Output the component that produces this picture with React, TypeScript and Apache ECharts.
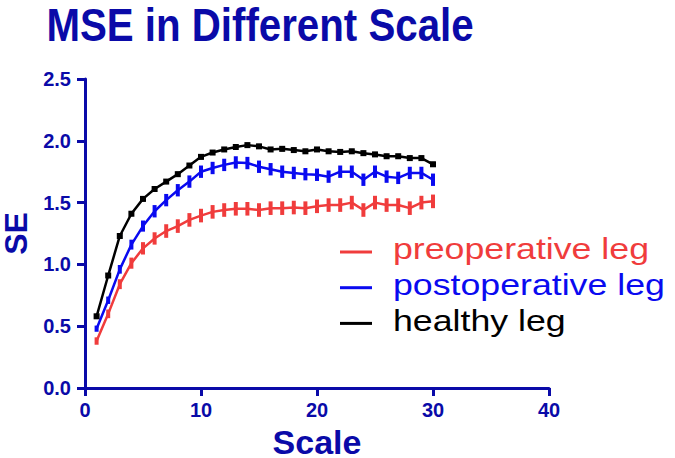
import React, { useEffect, useRef } from "react";
import * as echarts from "echarts";

const scales = Array.from({ length: 30 }, (_, i) => i + 1);

const seriesNames = ["preoperative leg", "postoperative leg", "healthy leg"];
const seriesColors = ["#f03c3c", "#0a0af0", "#000000"];

const preoperative = [
  0.38, 0.6, 0.84, 1.01, 1.13, 1.21, 1.27, 1.31, 1.36, 1.395,
  1.425, 1.44, 1.45, 1.45, 1.44, 1.455, 1.455, 1.46, 1.455, 1.47,
  1.48, 1.48, 1.5, 1.44, 1.5, 1.48, 1.48, 1.455, 1.5, 1.51,
];
const postoperative = [
  0.48, 0.71, 0.96, 1.16, 1.31, 1.43, 1.52, 1.6, 1.67, 1.75,
  1.78, 1.805, 1.825, 1.82, 1.79, 1.77, 1.75, 1.74, 1.73, 1.725,
  1.71, 1.75, 1.75, 1.685, 1.75, 1.71, 1.7, 1.74, 1.74, 1.685,
];
const healthy = [
  0.58, 0.91, 1.23, 1.41, 1.53, 1.61, 1.67, 1.73, 1.8, 1.87,
  1.905, 1.93, 1.95, 1.965, 1.955, 1.93, 1.935, 1.925, 1.915, 1.93,
  1.915, 1.91, 1.915, 1.9, 1.89, 1.875, 1.875, 1.86, 1.86, 1.81,
];

const preErr = [
  0.03, 0.035, 0.04, 0.045, 0.05, 0.05, 0.055, 0.055, 0.055, 0.055,
  0.055, 0.055, 0.055, 0.055, 0.055, 0.055, 0.055, 0.055, 0.055, 0.055,
  0.055, 0.055, 0.055, 0.055, 0.055, 0.055, 0.055, 0.055, 0.055, 0.055,
];
const postErr = [
  0.025, 0.03, 0.035, 0.04, 0.045, 0.05, 0.05, 0.05, 0.05, 0.05,
  0.05, 0.05, 0.05, 0.05, 0.05, 0.05, 0.05, 0.05, 0.05, 0.05,
  0.05, 0.05, 0.05, 0.05, 0.05, 0.05, 0.05, 0.05, 0.05, 0.05,
];
const healthyErr = [
  0.02, 0.02, 0.02, 0.02, 0.02, 0.02, 0.02, 0.02, 0.02, 0.02,
  0.02, 0.02, 0.02, 0.02, 0.02, 0.02, 0.02, 0.02, 0.02, 0.02,
  0.02, 0.02, 0.02, 0.02, 0.02, 0.02, 0.02, 0.02, 0.02, 0.02,
];

const xTicks = [0, 10, 20, 30, 40];
const yTicks = [0, 0.5, 1.0, 1.5, 2.0, 2.5];

const titleText = "MSE in Different Scale";
const xName = "Scale";
const yName = "SE";

const AXIS_COLOR = "#0a0aa8";
const FONT = "'Liberation Sans', Arial, Helvetica, sans-serif";

export default function App() {
  const ref = useRef<HTMLDivElement>(null);

  useEffect(() => {
    if (!ref.current) return;
    const chart = echarts.init(ref.current, null, { renderer: "svg" });

    const valuesList = [preoperative, postoperative, healthy];
    const errList = [preErr, postErr, healthyErr];

    const lineSeries: any[] = valuesList.map((vals, k) => ({
      type: "line",
      name: seriesNames[k],
      data: scales.map((s, i) => [s, vals[i]]),
      symbol: k === 2 ? "rect" : "none",
      symbolSize: 6,
      showSymbol: k === 2,
      itemStyle: { color: seriesColors[k] },
      lineStyle: { color: seriesColors[k], width: 2.5 },
      z: 3 + k,
    }));

    const errSeries: any[] = valuesList.map((vals, k) => ({
      type: "custom",
      name: seriesNames[k] + " error",
      data: scales.map((s, i) => [s, vals[i], errList[k][i]]),
      renderItem: (params: any, api: any) => {
        const x = api.value(0);
        const y = api.value(1);
        const e = api.value(2);
        const top = api.coord([x, y + e]);
        const bot = api.coord([x, y - e]);
        return {
          type: "rect",
          shape: { x: top[0] - 2, y: top[1], width: 4, height: bot[1] - top[1] },
          style: { fill: seriesColors[k] },
        };
      },
      z: 3 + k,
      silent: true,
    }));

    const legendTop = 249;
    const legendStep = 35.7;
    const legendGraphics: any[] = [];
    seriesNames.forEach((name, k) => {
      const cy = legendTop + k * legendStep;
      legendGraphics.push({
        type: "line",
        shape: { x1: 340, y1: cy + 3, x2: 372, y2: cy + 3 },
        style: { stroke: seriesColors[k], lineWidth: 3 },
      });
      legendGraphics.push({
        type: "text",
        x: 393,
        y: cy,
        scaleX: 1.19,
        style: {
          text: name,
          fill: seriesColors[k],
          font: `30px ${FONT}`,
          textAlign: "left",
          textVerticalAlign: "middle",
        },
      });
    });

    const option: any = {
      animation: false,
      backgroundColor: "#ffffff",
      grid: {
        left: 85,
        top: 79,
        width: 464,
        height: 309,
        containLabel: false,
        outerBoundsMode: "none",
      },
      xAxis: {
        type: "value",
        min: xTicks[0],
        max: xTicks[xTicks.length - 1],
        interval: 10,
        name: xName,
        nameLocation: "middle",
        nameGap: 36,
        nameTextStyle: {
          color: AXIS_COLOR,
          fontSize: 34,
          lineHeight: 28,
          fontWeight: "bold",
          fontFamily: FONT,
        },
        axisLine: { lineStyle: { color: AXIS_COLOR, width: 3 } },
        axisTick: { length: 8, lineStyle: { color: AXIS_COLOR, width: 3 } },
        axisLabel: { color: AXIS_COLOR, fontSize: 20, fontWeight: "bold", fontFamily: FONT, margin: 12 },
        splitLine: { show: false },
      },
      yAxis: {
        type: "value",
        min: yTicks[0],
        max: yTicks[yTicks.length - 1],
        interval: 0.5,
        name: yName,
        nameLocation: "middle",
        nameGap: 50,
        nameRotate: 90,
        nameTextStyle: {
          color: AXIS_COLOR,
          fontSize: 32,
          lineHeight: 28,
          fontWeight: "bold",
          fontFamily: FONT,
        },
        axisLine: { lineStyle: { color: AXIS_COLOR, width: 3 } },
        axisTick: { length: 8, lineStyle: { color: AXIS_COLOR, width: 3 } },
        axisLabel: {
          color: AXIS_COLOR,
          fontSize: 20,
          fontWeight: "bold",
          fontFamily: FONT,
          margin: 14,
          formatter: (v: number) => v.toFixed(1),
        },
        splitLine: { show: false },
      },
      graphic: [
        {
          type: "text",
          x: 260,
          y: 5,
          scaleX: 0.875,
          style: {
            text: titleText,
            fill: AXIS_COLOR,
            font: `bold 46px ${FONT}`,
            lineHeight: 40,
            textAlign: "center",
            textVerticalAlign: "top",
          },
        },
        ...legendGraphics,
      ],
      series: [...lineSeries, ...errSeries],
    };

    chart.setOption(option);
    return () => chart.dispose();
  }, []);

  return (
    <div
      ref={ref}
      style={{ position: "absolute", left: 0, top: 0, width: 675, height: 458 }}
    />
  );
}
